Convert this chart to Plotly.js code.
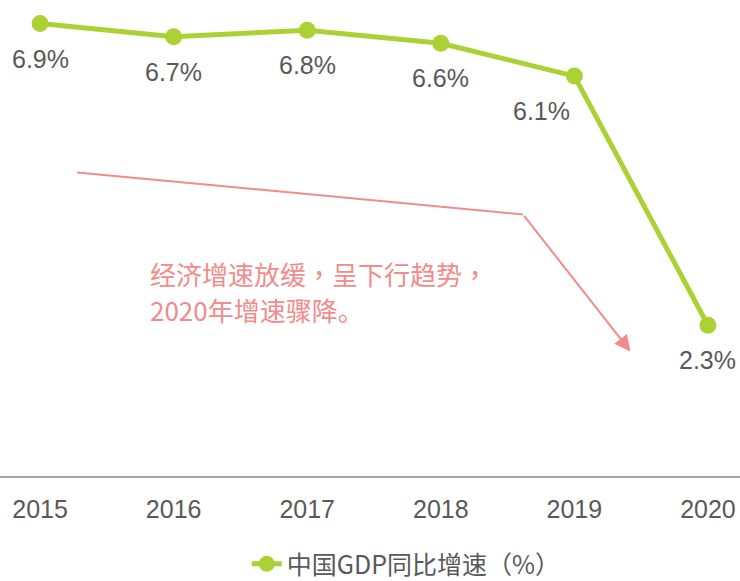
<!DOCTYPE html>
<html>
<head>
<meta charset="utf-8">
<script src="https://cdn.plot.ly/plotly-3.0.1.min.js"></script>
<style>html,body{margin:0;padding:0;background:#fff;}#chart{width:740px;height:581px;}</style>
</head>
<body>
<div id="chart"></div>
<script>
const years = ['2015', '2016', '2017', '2018', '2019', '2020'];
const gdpGrowth = [6.9, 6.7, 6.8, 6.6, 6.1, 2.3];
const seriesName = '中国GDP同比增速（%）';
const noteLines = ['经济增速放缓，呈下行趋势，', '2020年增速骤降。'];

const green = '#acd135';
const pink = '#f28b8b';
const gray = '#595959';
const labelXShift = {'2019': -33};

// render full-width punctuation centred (as in the reference font)
function centrePunct(s) {
  return s
    .replace(/([，])/g, '<span style="font-family:\'Noto Sans CJK TC\'">$1</span>')
    .replace(/([（）])/g, '<span style="font-family:\'Noto Sans CJK KR\'">$1</span>');
}

const trace = {
  type: 'scatter',
  mode: 'lines+markers',
  x: years,
  y: gdpGrowth,
  name: centrePunct(seriesName),
  line: {color: green, width: 5},
  marker: {color: green, size: 17},
  cliponaxis: false,
  hoverinfo: 'skip'
};

const labelAnnotations = years.map((yr, i) => ({
  x: i, y: gdpGrowth[i], xref: 'x', yref: 'y',
  text: gdpGrowth[i].toFixed(1) + '%',
  showarrow: false, yshift: -35, xshift: labelXShift[yr] || 0,
  xanchor: 'center', yanchor: 'middle',
  font: {family: 'Liberation Sans, Arial, sans-serif', size: 25, color: gray}
}));

const noteY = [3.096, 2.547];
const noteAnnotations = noteLines.map((t, k) => ({
  x: 0.808, y: noteY[k], xref: 'x', yref: 'y',
  xanchor: 'left', yanchor: 'middle', align: 'left',
  showarrow: false, text: centrePunct(t),
  font: {family: 'Noto Sans CJK SC, sans-serif', size: 26, color: pink}
}));

const layout = {
  width: 740, height: 581,
  margin: {l: 0, r: 0, t: 0, b: 105, autoexpand: false},
  paper_bgcolor: '#ffffff', plot_bgcolor: '#ffffff',
  showlegend: true,
  legend: {
    orientation: 'h', x: 0.549, xanchor: 'center', y: -0.185, yanchor: 'middle',
    font: {family: 'Noto Sans CJK SC, Liberation Sans, sans-serif', size: 25, color: gray}
  },
  xaxis: {
    type: 'category', range: [-0.3, 5.24],
    showline: true, linecolor: '#a6a6a6', linewidth: 1.5,
    showgrid: false, zeroline: false, ticks: '',
    ticklabelstandoff: 10,
    tickfont: {family: 'Liberation Sans, Arial, sans-serif', size: 25, color: gray}
  },
  yaxis: {range: [0, 7.26], visible: false, showgrid: false, zeroline: false},
  shapes: [{
    type: 'line', xref: 'x', yref: 'y',
    x0: 0.277, y0: 4.63, x1: 3.615, y1: 3.99,
    line: {color: pink, width: 2}
  }],
  annotations: labelAnnotations.concat([
    {
      x: 4.42, y: 1.90, xref: 'x', yref: 'y',
      ax: 3.615, ay: 3.99, axref: 'x', ayref: 'y',
      showarrow: true, arrowhead: 2, arrowsize: 1.6, arrowwidth: 2, arrowcolor: pink,
      text: ''
    }
  ]).concat(noteAnnotations)
};

Plotly.newPlot('chart', [trace], layout, {staticPlot: true, displayModeBar: false});
</script>
</body>
</html>
